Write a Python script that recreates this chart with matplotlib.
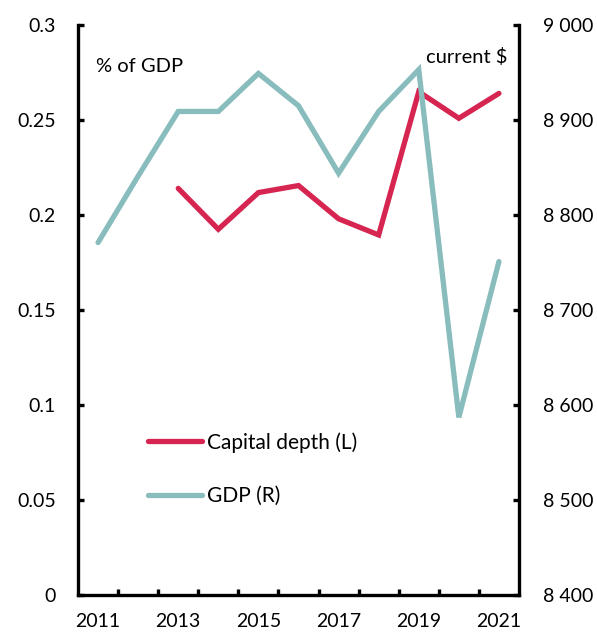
import matplotlib.pyplot as plt
from matplotlib.lines import Line2D
from matplotlib.ticker import FuncFormatter, FixedLocator

years = [2011, 2012, 2013, 2014, 2015, 2016, 2017, 2018, 2019, 2020, 2021]
cap_years = [2013, 2014, 2015, 2016, 2017, 2018, 2019, 2020, 2021]
capital_depth = [0.214, 0.1925, 0.2118, 0.2155, 0.198, 0.1895, 0.2649, 0.2509, 0.264]
gdp = [8771, 8841, 8909, 8909, 8949, 8915, 8844, 8909, 8953, 8587, 8751]
x_labels = [2011, 2013, 2015, 2017, 2019, 2021]

RED = "#D62550"
TEAL = "#88BCBD"
FONT = "Lato"
FS = 14

plt.rcParams["font.family"] = [FONT, "DejaVu Sans"]
plt.rcParams["font.size"] = FS

fig = plt.figure(figsize=(5.97, 6.33), dpi=100)
ax = fig.add_axes([0.1307, 0.06, 0.7386, 0.9005])
ax2 = ax.twinx()

ax.plot(cap_years, capital_depth, color=RED, lw=3.8, solid_capstyle="round",
        solid_joinstyle="miter", zorder=3)
ax2.plot(years, gdp, color=TEAL, lw=3.8, solid_capstyle="round",
         solid_joinstyle="miter", zorder=3)

ax.set_xlim(2010.5, 2021.5)
ax.set_ylim(0, 0.3)
ax2.set_ylim(8400, 9000)

ax.set_yticks([0, 0.05, 0.1, 0.15, 0.2, 0.25, 0.3])
ax.set_yticklabels(["0", "0.05", "0.1", "0.15", "0.2", "0.25", "0.3"])
ax2.set_yticks(range(8400, 9001, 100))
ax2.yaxis.set_major_formatter(FuncFormatter(lambda v, p: f"{int(v):,}".replace(",", " ")))

ax.set_xticks(x_labels)
ax.set_xticklabels([str(y) for y in x_labels])
ax.xaxis.set_minor_locator(FixedLocator([y + 0.5 for y in years[:-1]]))

for a in (ax, ax2):
    for s in a.spines.values():
        s.set_linewidth(2.4)
    a.spines["top"].set_visible(False)
ax.spines["right"].set_visible(False)
ax2.spines["left"].set_visible(False)
ax2.spines["bottom"].set_visible(False)

ax.tick_params(axis="y", direction="in", length=4, width=2.4, pad=16, labelsize=FS)
ax2.tick_params(axis="y", direction="in", length=4, width=2.4, pad=17, labelsize=FS)
ax.tick_params(axis="x", which="major", length=0, pad=13, labelsize=FS)
ax.tick_params(axis="x", which="minor", direction="in", length=4, width=2.4)

ax.text(0.04, 0.928, "% of GDP", transform=ax.transAxes, fontsize=FS + 0.5,
        ha="left", va="center")
ax.text(0.974, 0.944, "current $", transform=ax.transAxes, fontsize=FS + 0.5,
        ha="right", va="center")

handles = [Line2D([], [], color=RED, lw=3.8, solid_capstyle="round"),
           Line2D([], [], color=TEAL, lw=3.8, solid_capstyle="round")]
ax.legend(handles, ["Capital depth (L)", "GDP (R)"], loc="upper left",
          bbox_to_anchor=(0.158, 0.286), frameon=False, fontsize=15,
          handlelength=2.6, handletextpad=0.25, labelspacing=1.6,
          borderpad=0, borderaxespad=0)

fig.savefig("out.png", dpi=100)
